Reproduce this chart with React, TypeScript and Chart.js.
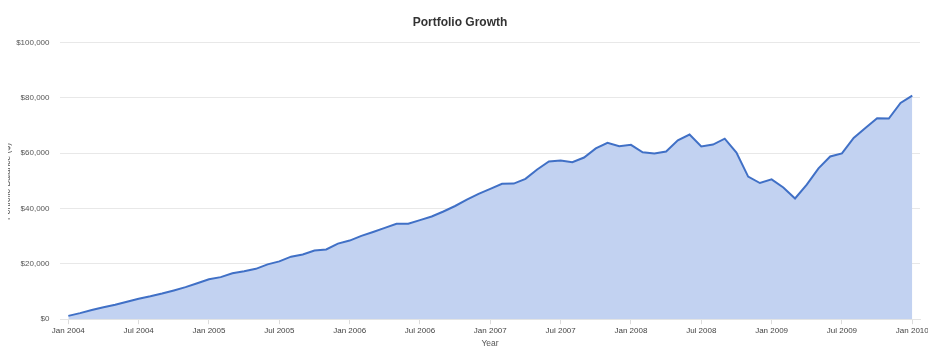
import React, { useEffect, useRef } from "react";
import { Chart, registerables } from "chart.js";

Chart.register(...registerables);

// Month index 0 = Jan 2004 ... 72 = Jan 2010
const monthIndex: number[] = Array.from({ length: 73 }, (_, i) => i);

const balances: number[] = [
  1200, 2200, 3300, 4300, 5200, 6300, 7400, 8300, 9300, 10400, 11600, 13000,
  14400, 15200, 16600, 17300, 18200, 19800, 20900, 22600, 23400, 24800, 25200, 27300,
  28400, 30100, 31500, 33000, 34500, 34500, 35800, 37100, 38900, 40900, 43200, 45300,
  47100, 48900, 49000, 50700, 54100, 57000, 57300, 56700, 58400, 61700, 63700, 62500,
  63000, 60300, 59900, 60600, 64600, 66700, 62400, 63100, 65200, 60200, 51500, 49200,
  50500, 47600, 43600, 48600, 54500, 58800, 59900, 65500, 69100, 72600, 72500, 78100,
  80800,
];

const tickLabels: string[] = [
  "Jan 2004", "Jul 2004", "Jan 2005", "Jul 2005", "Jan 2006", "Jul 2006",
  "Jan 2007", "Jul 2007", "Jan 2008", "Jul 2008", "Jan 2009", "Jul 2009", "Jan 2010",
];
const tickStep = 6;

const yTicks: number[] = [0, 20000, 40000, 60000, 80000, 100000];

const yAxisTitle = "Portfolio Balance ($)";

const FONT = "'Liberation Sans', Arial, sans-serif";

export default function App() {
  const ref = useRef<HTMLCanvasElement | null>(null);

  useEffect(() => {
    if (!ref.current) return;
    Chart.defaults.font.family = FONT;
    const chart = new Chart(ref.current, {
      type: "line",
      data: {
        labels: monthIndex,
        datasets: [
          {
            label: "Portfolio Balance",
            data: balances.map((v, i) => ({ x: monthIndex[i], y: v })),
            borderColor: "#4070c6",
            backgroundColor: "#c2d2f1",
            borderWidth: 2,
            fill: "origin",
            pointRadius: 0,
            tension: 0,
          },
        ],
      },
      options: {
        animation: false,
        responsive: true,
        maintainAspectRatio: false,
        layout: { padding: { left: 0, right: 16, top: 0, bottom: 4 } },
        plugins: {
          legend: { display: false },
          tooltip: { enabled: false },
          title: {
            display: true,
            text: "Portfolio Growth",
            color: "#333",
            font: { size: 12, weight: "bold", family: FONT },
            padding: { top: 15, bottom: 13 },
          },
        },
        scales: {
          x: {
            type: "linear",
            min: -0.71,
            max: 72.66,
            afterBuildTicks: (scale: any) => {
              scale.ticks = tickLabels.map((_, k) => ({ value: k * tickStep }));
            },
            ticks: {
              autoSkip: false,
              maxRotation: 0,
              color: "#444",
              font: { size: 8, family: FONT },
              padding: 2,
              callback: (v: any) => tickLabels[Math.round(Number(v) / tickStep)] ?? "",
            },
            grid: { drawOnChartArea: false, drawTicks: true, tickLength: 5, color: "#dcdcdc" },
            border: { display: true, color: "#e4e4e4" },
            title: {
              display: true,
              text: "Year",
              color: "#555",
              font: { size: 8.5, family: FONT },
              padding: { top: 1, bottom: 0 },
            },
          },
          y: {
            min: 0,
            max: 100000,
            afterBuildTicks: (scale: any) => {
              scale.ticks = yTicks.map((v) => ({ value: v }));
            },
            afterFit: (scale: any) => {
              scale.width = 60;
            },
            ticks: {
              color: "#555",
              padding: 10.5,
              font: { size: 8, family: FONT },
              callback: (v: any) => "$" + Number(v).toLocaleString("en-US"),
            },
            grid: { color: "#e8e8e8", drawTicks: false },
            border: { display: false },
            title: { display: false },
          },
        },
      },
    });
    return () => chart.destroy();
  }, []);

  return (
    <div style={{ marginLeft: -8, marginTop: -8, width: 936, height: 353, position: "relative" }}>
      <canvas ref={ref} />
      <div
        style={{
          position: "absolute",
          left: 1,
          top: 43,
          width: 12,
          height: 277,
          display: "flex",
          alignItems: "center",
          justifyContent: "center",
          pointerEvents: "none",
        }}
      >
        <span
          style={{
            writingMode: "vertical-rl",
            transform: "rotate(180deg)",
            fontFamily: FONT,
            fontSize: 8.5,
            lineHeight: "12px",
            color: "#555",
            whiteSpace: "nowrap",
          }}
        >
          {yAxisTitle}
        </span>
      </div>
    </div>
  );
}
